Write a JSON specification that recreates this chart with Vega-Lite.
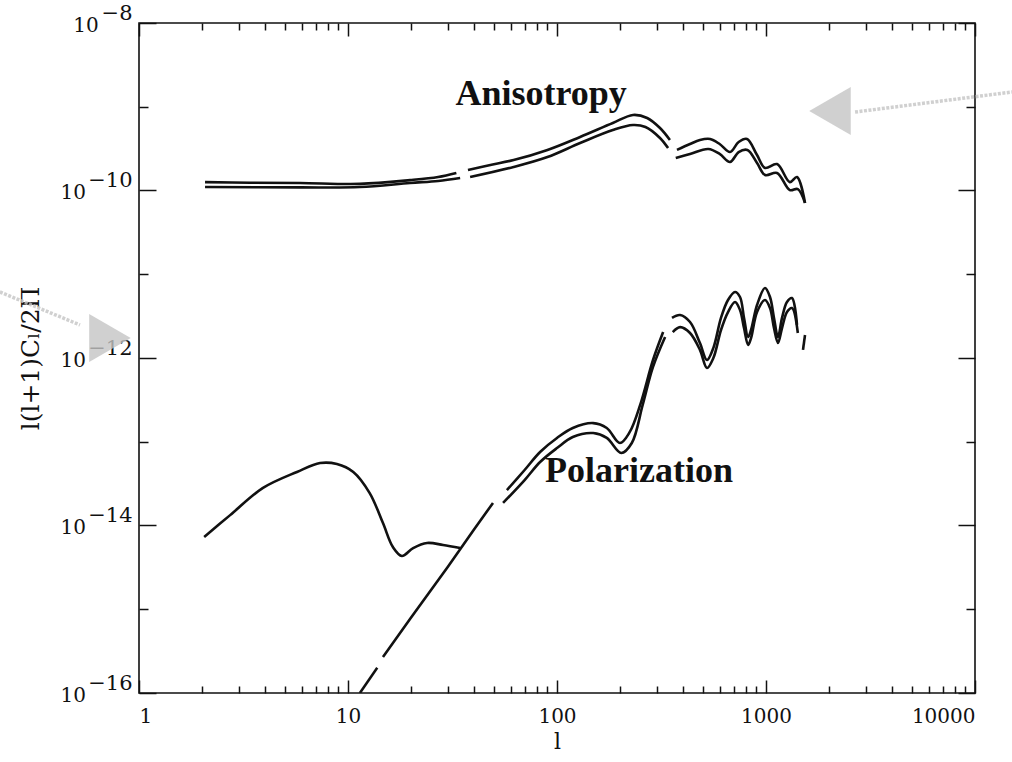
{
  "$schema": "https://vega.github.io/schema/vega-lite/v6.json",
  "width": 836,
  "height": 670,
  "autosize": "none",
  "padding": {"left": 139, "top": 23, "right": 37, "bottom": 69},
  "background": "white",
  "config": {
    "view": {"stroke": "#111111", "strokeWidth": 1.6},
    "axis": {
      "domain": false,
      "grid": false,
      "labelFont": "DejaVu Serif",
      "titleFont": "DejaVu Serif",
      "labelColor": "#111111",
      "titleColor": "#111111",
      "tickColor": "#111111",
      "tickWidth": 1.5
    }
  },
  "datasets": {
    "curves": [
      {"g": "A", "s": "AU1", "l": 2.07, "v": 1.26e-10},
      {"g": "A", "s": "AU1", "l": 3.4, "v": 1.24e-10},
      {"g": "A", "s": "AU1", "l": 5.9, "v": 1.23e-10},
      {"g": "A", "s": "AU1", "l": 11.4, "v": 1.20e-10},
      {"g": "A", "s": "AU1", "l": 19.8, "v": 1.33e-10},
      {"g": "A", "s": "AU1", "l": 27, "v": 1.45e-10},
      {"g": "A", "s": "AU1", "l": 33, "v": 1.62e-10},
      {"g": "A", "s": "AL1", "l": 2.07, "v": 1.10e-10},
      {"g": "A", "s": "AL1", "l": 5.9, "v": 1.09e-10},
      {"g": "A", "s": "AL1", "l": 11.4, "v": 1.10e-10},
      {"g": "A", "s": "AL1", "l": 19.8, "v": 1.23e-10},
      {"g": "A", "s": "AL1", "l": 27, "v": 1.30e-10},
      {"g": "A", "s": "AL1", "l": 34.4, "v": 1.41e-10},
      {"g": "A", "s": "AU2", "l": 37.5, "v": 1.76e-10},
      {"g": "A", "s": "AU2", "l": 48, "v": 2.02e-10},
      {"g": "A", "s": "AU2", "l": 62, "v": 2.31e-10},
      {"g": "A", "s": "AU2", "l": 90, "v": 3.05e-10},
      {"g": "A", "s": "AU2", "l": 129, "v": 4.36e-10},
      {"g": "A", "s": "AU2", "l": 185, "v": 6.40e-10},
      {"g": "A", "s": "AU2", "l": 231, "v": 7.98e-10},
      {"g": "A", "s": "AU2", "l": 270, "v": 7.34e-10},
      {"g": "A", "s": "AU2", "l": 311, "v": 5.57e-10},
      {"g": "A", "s": "AU2", "l": 347, "v": 4.01e-10},
      {"g": "A", "s": "AL2", "l": 38.4, "v": 1.45e-10},
      {"g": "A", "s": "AL2", "l": 62, "v": 1.91e-10},
      {"g": "A", "s": "AL2", "l": 90, "v": 2.51e-10},
      {"g": "A", "s": "AL2", "l": 129, "v": 3.69e-10},
      {"g": "A", "s": "AL2", "l": 185, "v": 5.27e-10},
      {"g": "A", "s": "AL2", "l": 231, "v": 6.05e-10},
      {"g": "A", "s": "AL2", "l": 265, "v": 5.73e-10},
      {"g": "A", "s": "AL2", "l": 311, "v": 4.24e-10},
      {"g": "A", "s": "AL2", "l": 340, "v": 3.21e-10},
      {"g": "A", "s": "AU3", "l": 375, "v": 3.05e-10},
      {"g": "A", "s": "AU3", "l": 433, "v": 3.59e-10},
      {"g": "A", "s": "AU3", "l": 483, "v": 4.01e-10},
      {"g": "A", "s": "AU3", "l": 540, "v": 4.12e-10},
      {"g": "A", "s": "AU3", "l": 600, "v": 3.59e-10},
      {"g": "A", "s": "AU3", "l": 673, "v": 2.88e-10},
      {"g": "A", "s": "AU3", "l": 740, "v": 3.79e-10},
      {"g": "A", "s": "AU3", "l": 811, "v": 4.12e-10},
      {"g": "A", "s": "AU3", "l": 906, "v": 2.65e-10},
      {"g": "A", "s": "AU3", "l": 990, "v": 1.86e-10},
      {"g": "A", "s": "AU3", "l": 1129, "v": 2.07e-10},
      {"g": "A", "s": "AU3", "l": 1300, "v": 1.26e-10},
      {"g": "A", "s": "AU3", "l": 1407, "v": 1.45e-10},
      {"g": "A", "s": "AU3", "l": 1537, "v": 7.1e-11},
      {"g": "A", "s": "AL3", "l": 370, "v": 2.44e-10},
      {"g": "A", "s": "AL3", "l": 433, "v": 2.73e-10},
      {"g": "A", "s": "AL3", "l": 530, "v": 3.13e-10},
      {"g": "A", "s": "AL3", "l": 600, "v": 2.73e-10},
      {"g": "A", "s": "AL3", "l": 673, "v": 2.19e-10},
      {"g": "A", "s": "AL3", "l": 740, "v": 2.88e-10},
      {"g": "A", "s": "AL3", "l": 815, "v": 3.05e-10},
      {"g": "A", "s": "AL3", "l": 906, "v": 2.13e-10},
      {"g": "A", "s": "AL3", "l": 990, "v": 1.53e-10},
      {"g": "A", "s": "AL3", "l": 1129, "v": 1.62e-10},
      {"g": "A", "s": "AL3", "l": 1300, "v": 1.01e-10},
      {"g": "A", "s": "AL3", "l": 1420, "v": 1.04e-10},
      {"g": "A", "s": "AL3", "l": 1537, "v": 7.1e-11},

      {"g": "S", "s": "S1", "l": 11.4, "v": 1.0e-16},
      {"g": "S", "s": "S1", "l": 13.8, "v": 2.0e-16},
      {"g": "S", "s": "S2", "l": 14.7, "v": 2.69e-16},
      {"g": "S", "s": "S2", "l": 20, "v": 7.9e-16},
      {"g": "S", "s": "S2", "l": 30, "v": 3.2e-15},
      {"g": "S", "s": "S2", "l": 40, "v": 8.9e-15},
      {"g": "S", "s": "S2", "l": 49.4, "v": 1.86e-14},

      {"g": "R", "s": "R1", "l": 2.05, "v": 7.3e-15},
      {"g": "R", "s": "R1", "l": 2.73, "v": 1.33e-14},
      {"g": "R", "s": "R1", "l": 3.92, "v": 2.81e-14},
      {"g": "R", "s": "R1", "l": 5.7, "v": 4.36e-14},
      {"g": "R", "s": "R1", "l": 7.35, "v": 5.57e-14},
      {"g": "R", "s": "R1", "l": 8.85, "v": 5.42e-14},
      {"g": "R", "s": "R1", "l": 10.6, "v": 4.36e-14},
      {"g": "R", "s": "R1", "l": 12.7, "v": 2.44e-14},
      {"g": "R", "s": "R1", "l": 14.7, "v": 1.07e-14},
      {"g": "R", "s": "R1", "l": 16.4, "v": 5.53e-15},
      {"g": "R", "s": "R1", "l": 18.1, "v": 4.33e-15},
      {"g": "R", "s": "R1", "l": 20.5, "v": 5.38e-15},
      {"g": "R", "s": "R1", "l": 23.9, "v": 6.18e-15},
      {"g": "R", "s": "R1", "l": 28.5, "v": 5.85e-15},
      {"g": "R", "s": "R1", "l": 34.4, "v": 5.38e-15},

      {"g": "E", "s": "PU2", "l": 57.6, "v": 2.65e-14},
      {"g": "E", "s": "PU2", "l": 70, "v": 4.6e-14},
      {"g": "E", "s": "PU2", "l": 83, "v": 7.55e-14},
      {"g": "E", "s": "PU2", "l": 100, "v": 1.11e-13},
      {"g": "E", "s": "PU2", "l": 119, "v": 1.46e-13},
      {"g": "E", "s": "PU2", "l": 149, "v": 1.67e-13},
      {"g": "E", "s": "PU2", "l": 173, "v": 1.46e-13},
      {"g": "E", "s": "PU2", "l": 200, "v": 9.66e-14},
      {"g": "E", "s": "PU2", "l": 223, "v": 1.31e-13},
      {"g": "E", "s": "PU2", "l": 250, "v": 2.75e-13},
      {"g": "E", "s": "PU2", "l": 288, "v": 9.46e-13},
      {"g": "E", "s": "PU2", "l": 322, "v": 2.04e-12},
      {"g": "E", "s": "PL2", "l": 55.2, "v": 1.86e-14},
      {"g": "E", "s": "PL2", "l": 70, "v": 3.49e-14},
      {"g": "E", "s": "PL2", "l": 83, "v": 5.73e-14},
      {"g": "E", "s": "PL2", "l": 100, "v": 8.41e-14},
      {"g": "E", "s": "PL2", "l": 119, "v": 1.14e-13},
      {"g": "E", "s": "PL2", "l": 149, "v": 1.27e-13},
      {"g": "E", "s": "PL2", "l": 173, "v": 1.11e-13},
      {"g": "E", "s": "PL2", "l": 203, "v": 7.34e-14},
      {"g": "E", "s": "PL2", "l": 228, "v": 9.66e-14},
      {"g": "E", "s": "PL2", "l": 257, "v": 2.75e-13},
      {"g": "E", "s": "PL2", "l": 288, "v": 7.82e-13},
      {"g": "E", "s": "PL2", "l": 329, "v": 1.78e-12},
      {"g": "E", "s": "PU3", "l": 355, "v": 3.01e-12},
      {"g": "E", "s": "PU3", "l": 388, "v": 3.26e-12},
      {"g": "E", "s": "PU3", "l": 433, "v": 2.69e-12},
      {"g": "E", "s": "PU3", "l": 483, "v": 1.51e-12},
      {"g": "E", "s": "PU3", "l": 522, "v": 9.46e-13},
      {"g": "E", "s": "PU3", "l": 560, "v": 1.32e-12},
      {"g": "E", "s": "PU3", "l": 609, "v": 3.01e-12},
      {"g": "E", "s": "PU3", "l": 658, "v": 4.93e-12},
      {"g": "E", "s": "PU3", "l": 711, "v": 6.14e-12},
      {"g": "E", "s": "PU3", "l": 751, "v": 5.35e-12},
      {"g": "E", "s": "PU3", "l": 785, "v": 3.01e-12},
      {"g": "E", "s": "PU3", "l": 821, "v": 1.78e-12},
      {"g": "E", "s": "PU3", "l": 848, "v": 2.16e-12},
      {"g": "E", "s": "PU3", "l": 906, "v": 4.30e-12},
      {"g": "E", "s": "PU3", "l": 989, "v": 6.86e-12},
      {"g": "E", "s": "PU3", "l": 1045, "v": 5.35e-12},
      {"g": "E", "s": "PU3", "l": 1092, "v": 3.01e-12},
      {"g": "E", "s": "PU3", "l": 1141, "v": 1.78e-12},
      {"g": "E", "s": "PU3", "l": 1193, "v": 3.01e-12},
      {"g": "E", "s": "PU3", "l": 1260, "v": 4.67e-12},
      {"g": "E", "s": "PU3", "l": 1331, "v": 5.20e-12},
      {"g": "E", "s": "PU3", "l": 1407, "v": 2.48e-12},
      {"g": "E", "s": "PL3", "l": 358, "v": 2.04e-12},
      {"g": "E", "s": "PL3", "l": 388, "v": 2.34e-12},
      {"g": "E", "s": "PL3", "l": 433, "v": 1.99e-12},
      {"g": "E", "s": "PL3", "l": 483, "v": 1.25e-12},
      {"g": "E", "s": "PL3", "l": 522, "v": 7.61e-13},
      {"g": "E", "s": "PL3", "l": 560, "v": 1.0e-12},
      {"g": "E", "s": "PL3", "l": 609, "v": 2.16e-12},
      {"g": "E", "s": "PL3", "l": 658, "v": 3.54e-12},
      {"g": "E", "s": "PL3", "l": 711, "v": 4.67e-12},
      {"g": "E", "s": "PL3", "l": 751, "v": 3.74e-12},
      {"g": "E", "s": "PL3", "l": 785, "v": 2.28e-12},
      {"g": "E", "s": "PL3", "l": 821, "v": 1.43e-12},
      {"g": "E", "s": "PL3", "l": 848, "v": 1.73e-12},
      {"g": "E", "s": "PL3", "l": 906, "v": 3.54e-12},
      {"g": "E", "s": "PL3", "l": 989, "v": 4.93e-12},
      {"g": "E", "s": "PL3", "l": 1045, "v": 3.95e-12},
      {"g": "E", "s": "PL3", "l": 1092, "v": 2.28e-12},
      {"g": "E", "s": "PL3", "l": 1141, "v": 1.51e-12},
      {"g": "E", "s": "PL3", "l": 1193, "v": 2.28e-12},
      {"g": "E", "s": "PL3", "l": 1260, "v": 3.54e-12},
      {"g": "E", "s": "PL3", "l": 1331, "v": 3.95e-12},
      {"g": "E", "s": "PL3", "l": 1420, "v": 1.99e-12},
      {"g": "E", "s": "PF", "l": 1503, "v": 1.25e-12},
      {"g": "E", "s": "PF", "l": 1537, "v": 1.88e-12}
    ],
    "notes": [
      {"label": "Anisotropy", "l": 84, "v": 1.05e-9},
      {"label": "Polarization", "l": 247, "v": 3.3e-14}
    ],
    "arrows": [
      {"part": "tail", "id": "a1", "l": 2667, "v": 8.65e-10},
      {"part": "tail", "id": "a1", "l": 15030, "v": 1.50e-9},
      {"part": "tail", "id": "a2", "l": 0.216, "v": 6.14e-12},
      {"part": "tail", "id": "a2", "l": 0.522, "v": 2.48e-12},
      {"part": "head", "id": "a1", "l": 2024, "v": 8.89e-10},
      {"part": "head", "id": "a2", "l": 0.726, "v": 1.73e-12}
    ]
  },
  "resolve": {"axis": {"x": "independent", "y": "independent"}},
  "layer": [
    {
      "data": {"name": "curves"},
      "transform": [{"filter": "datum.g === 'A'"}],
      "mark": {"type": "line", "interpolate": "catmull-rom", "color": "#111111", "strokeWidth": 2.6, "clip": true},
      "encoding": {
        "x": {
          "field": "l", "type": "quantitative",
          "scale": {"type": "log", "domain": [1, 10000], "nice": false},
          "axis": {
            "orient": "bottom", "values": [1, 10, 100, 1000, 10000], "format": "d",
            "ticks": false, "labelPadding": 13, "labelFontSize": 20,
            "title": "l", "titleFontSize": 22, "titleFontWeight": "normal", "titlePadding": 5
          }
        },
        "y": {
          "field": "v", "type": "quantitative",
          "scale": {"type": "log", "domain": [1e-16, 1e-8], "nice": false},
          "axis": {
            "orient": "left", "values": [1e-16, 1e-14, 1e-12, 1e-10, 1e-8],
            "ticks": false, "labelPadding": 79, "labelAlign": "left", "labelFontSize": 20, "labelOffset": 2,
            "labelExpr": "round(log(datum.value)/LN10) == -8 ? '\u200b\u200710' : '10'",
            "title": "l(l+1)Cₗ/2Π", "titleFontSize": 25, "titleFontWeight": "normal", "titlePadding": 17
          }
        },
        "detail": {"field": "s", "type": "nominal"}
      }
    },
    {
      "data": {"name": "curves"},
      "transform": [{"filter": "datum.g === 'E'"}],
      "mark": {"type": "line", "interpolate": "catmull-rom", "color": "#111111", "strokeWidth": 2.6, "clip": true},
      "encoding": {
        "x": {
          "field": "l", "type": "quantitative",
          "scale": {"type": "log", "domain": [1, 10000], "nice": false},
          "axis": {"orient": "bottom", "values": [1, 10, 100, 1000, 10000], "labels": false, "tickSize": -13, "title": null}
        },
        "y": {
          "field": "v", "type": "quantitative",
          "scale": {"type": "log", "domain": [1e-16, 1e-8], "nice": false},
          "axis": {"orient": "left", "values": [1e-16, 1e-14, 1e-12, 1e-10, 1e-8], "labels": false, "tickSize": -17, "title": null}
        },
        "detail": {"field": "s", "type": "nominal"}
      }
    },
    {
      "data": {"name": "curves"},
      "transform": [{"filter": "datum.g === 'S'"}],
      "mark": {"type": "line", "color": "#111111", "strokeWidth": 2.6, "clip": true},
      "encoding": {
        "x": {
          "field": "l", "type": "quantitative",
          "scale": {"type": "log", "domain": [1, 10000], "nice": false},
          "axis": {"orient": "bottom", "values": [2, 3, 4, 5, 6, 7, 8, 9, 20, 30, 40, 50, 60, 70, 80, 90, 200, 300, 400, 500, 600, 700, 800, 900, 2000, 3000, 4000, 5000, 6000, 7000, 8000, 9000], "labels": false, "tickSize": -7, "title": null}
        },
        "y": {
          "field": "v", "type": "quantitative",
          "scale": {"type": "log", "domain": [1e-16, 1e-8], "nice": false},
          "axis": {"orient": "left", "values": [1e-15, 1e-13, 1e-11, 1e-9], "labels": false, "tickSize": -9, "title": null}
        },
        "detail": {"field": "s", "type": "nominal"}
      }
    },
    {
      "data": {"name": "curves"},
      "transform": [{"filter": "datum.g === 'R'"}],
      "mark": {"type": "line", "interpolate": "catmull-rom", "color": "#111111", "strokeWidth": 2.6, "clip": true},
      "encoding": {
        "x": {
          "field": "l", "type": "quantitative",
          "scale": {"type": "log", "domain": [1, 10000], "nice": false},
          "axis": {"orient": "top", "values": [1, 10, 100, 1000, 10000], "labels": false, "tickSize": -13, "title": null}
        },
        "y": {
          "field": "v", "type": "quantitative",
          "scale": {"type": "log", "domain": [1e-16, 1e-8], "nice": false},
          "axis": {"orient": "right", "values": [1e-16, 1e-14, 1e-12, 1e-10, 1e-8], "labels": false, "tickSize": -17, "title": null}
        },
        "detail": {"field": "s", "type": "nominal"}
      }
    },
    {
      "data": {"name": "notes"},
      "mark": {"type": "text", "font": "Liberation Serif", "fontWeight": "bold", "fontSize": 36, "align": "center", "baseline": "alphabetic", "color": "#111111"},
      "encoding": {
        "x": {
          "field": "l", "type": "quantitative",
          "scale": {"type": "log", "domain": [1, 10000], "nice": false},
          "axis": {"orient": "top", "values": [2, 3, 4, 5, 6, 7, 8, 9, 20, 30, 40, 50, 60, 70, 80, 90, 200, 300, 400, 500, 600, 700, 800, 900, 2000, 3000, 4000, 5000, 6000, 7000, 8000, 9000], "labels": false, "tickSize": -7, "title": null}
        },
        "y": {
          "field": "v", "type": "quantitative",
          "scale": {"type": "log", "domain": [1e-16, 1e-8], "nice": false},
          "axis": {"orient": "right", "values": [1e-15, 1e-13, 1e-11, 1e-9], "labels": false, "tickSize": -9, "title": null}
        },
        "text": {"field": "label", "type": "nominal"}
      }
    },
    {
      "data": {"name": "arrows"},
      "transform": [{"filter": "datum.part === 'tail'"}],
      "mark": {"type": "line", "color": "#c4c4c4", "strokeWidth": 3.5, "opacity": 0.8, "strokeDash": [3, 1.5], "clip": false},
      "encoding": {
        "x": {
          "field": "l", "type": "quantitative",
          "scale": {"type": "log", "domain": [1, 10000], "nice": false},
          "axis": null
        },
        "y": {
          "field": "v", "type": "quantitative",
          "scale": {"type": "log", "domain": [1e-16, 1e-8], "nice": false},
          "axis": {
            "orient": "left", "values": [1e-16, 1e-14, 1e-12, 1e-10, 1e-8],
            "ticks": false, "labelPadding": 7, "labelFontSize": 21, "labelOffset": -10,
            "labelExpr": "'−' + format(-round(log(datum.value)/LN10), 'd')",
            "title": null
          }
        },
        "detail": {"field": "id", "type": "nominal"}
      }
    },
    {
      "data": {"name": "arrows"},
      "transform": [{"filter": "datum.part === 'head'"}],
      "mark": {"type": "point", "filled": true, "color": "#c4c4c4", "opacity": 0.8, "size": 2300, "clip": false},
      "encoding": {
        "x": {
          "field": "l", "type": "quantitative",
          "scale": {"type": "log", "domain": [1, 10000], "nice": false},
          "axis": null
        },
        "y": {
          "field": "v", "type": "quantitative",
          "scale": {"type": "log", "domain": [1e-16, 1e-8], "nice": false},
          "axis": null
        },
        "shape": {
          "field": "id", "type": "nominal", "legend": null,
          "scale": {"domain": ["a1", "a2"], "range": ["triangle-left", "triangle-right"]}
        }
      }
    }
  ]
}
